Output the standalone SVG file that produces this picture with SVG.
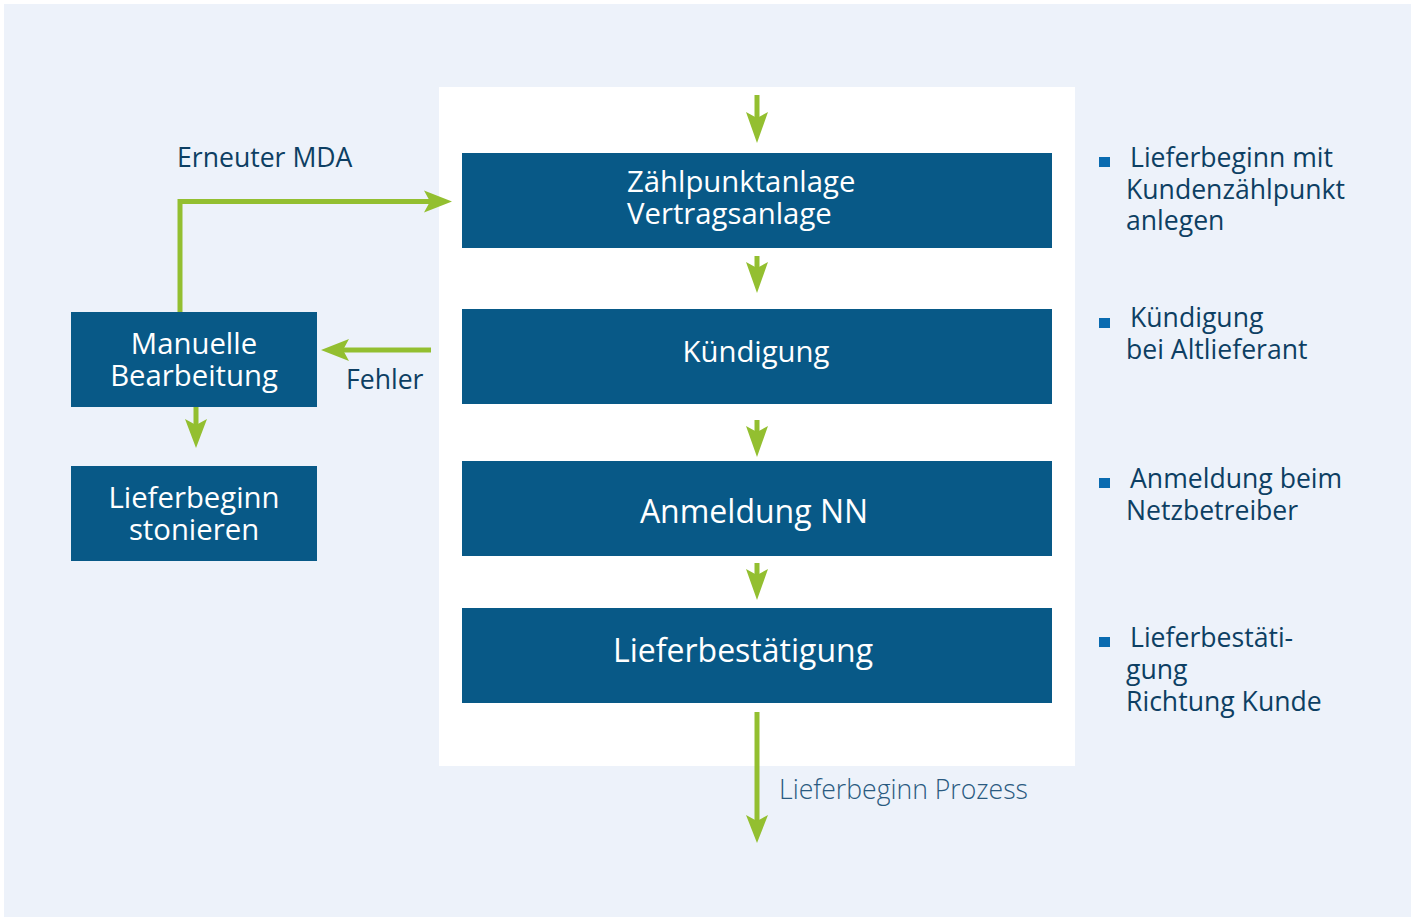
<svg xmlns="http://www.w3.org/2000/svg" width="1415" height="919" viewBox="0 0 1415 919">
<defs>
<style>
.box{fill:#085987}
.bt{fill:#ffffff;font-family:"Open Sans","Liberation Sans",sans-serif;font-size:29.3px;text-anchor:middle}
.big{font-size:32px}
.lbl{fill:#0d3f63;font-family:"Open Sans","Liberation Sans",sans-serif;font-size:26.6px}
.line{stroke:#93bf30;stroke-width:5;fill:none}
.head{fill:#93bf30}
.bul{fill:#0a6bb0}
</style>
</defs>
<rect x="0" y="0" width="1415" height="919" fill="#ffffff"/>
<rect x="4" y="4" width="1407" height="913" fill="#edf2fa"/>
<rect x="439" y="87" width="636" height="679" fill="#ffffff"/>
<g id="connectors">
<line class="line" x1="757" y1="95" x2="757" y2="120"/><polygon class="head" points="746,112 757,143 768,112 757,118"/>
<line class="line" x1="757" y1="256" x2="757" y2="270"/><polygon class="head" points="746,262 757,293 768,262 757,268"/>
<line class="line" x1="757" y1="420" x2="757" y2="434"/><polygon class="head" points="746,426 757,457 768,426 757,432"/>
<line class="line" x1="757" y1="563" x2="757" y2="577"/><polygon class="head" points="746,569 757,600 768,569 757,575"/>
<line class="line" x1="757" y1="712" x2="757" y2="822"/><polygon class="head" points="746,815 757,843 768,815 757,821"/>
<polyline class="line" points="180,312 180,201.5 430,201.5"/><polygon class="head" points="424,190.5 452,201.5 424,212.5 430,201.5"/>
<line class="line" x1="431" y1="350" x2="342" y2="350"/><polygon class="head" points="349,339 321,350 349,361 343,350"/>
<line class="line" x1="196" y1="407" x2="196" y2="426"/><polygon class="head" points="185,419 196,448 207,419 196,425"/>
</g>
<g id="n1"><rect class="box" x="462" y="153" width="590" height="95"/><text class="bt" x="627" y="192" style="text-anchor:start">Zählpunktanlage</text><text class="bt" x="627" y="224" style="text-anchor:start">Vertragsanlage</text></g>
<g id="n2"><rect class="box" x="462" y="309" width="590" height="95"/><text class="bt" x="756" y="362">Kündigung</text></g>
<g id="n3"><rect class="box" x="462" y="461" width="590" height="95"/><text class="bt big" x="754" y="523">Anmeldung NN</text></g>
<g id="n4"><rect class="box" x="462" y="608" width="590" height="95"/><text class="bt big" x="743" y="662">Lieferbestätigung</text></g>
<g id="n5"><rect class="box" x="71" y="312" width="246" height="95"/><text class="bt" x="194" y="354">Manuelle</text><text class="bt" x="194" y="386">Bearbeitung</text></g>
<g id="n6"><rect class="box" x="71" y="466" width="246" height="95"/><text class="bt" x="194" y="508">Lieferbeginn</text><text class="bt" x="194" y="540">stonieren</text></g>
<g id="labels">
<text class="lbl" x="177" y="167">Erneuter MDA</text>
<text class="lbl" x="346" y="389">Fehler</text>
<text class="lbl" x="779" y="799" style="font-weight:300;fill:#2a5a80">Lieferbeginn Prozess</text>
</g>
<g id="notes">
<rect class="bul" x="1099" y="157" width="11" height="10"/>
<text class="lbl" x="1130" y="167">Lieferbeginn mit</text>
<text class="lbl" x="1126" y="199">Kundenzählpunkt</text>
<text class="lbl" x="1126" y="230">anlegen</text>
<rect class="bul" x="1099" y="318" width="11" height="10"/>
<text class="lbl" x="1130" y="327">Kündigung</text>
<text class="lbl" x="1126" y="359">bei Altlieferant</text>
<rect class="bul" x="1099" y="478" width="11" height="10"/>
<text class="lbl" x="1130" y="488">Anmeldung beim</text>
<text class="lbl" x="1126" y="520">Netzbetreiber</text>
<rect class="bul" x="1099" y="637" width="11" height="10"/>
<text class="lbl" x="1130" y="647">Lieferbestäti-</text>
<text class="lbl" x="1126" y="679">gung</text>
<text class="lbl" x="1126" y="711">Richtung Kunde</text>
</g>
</svg>
